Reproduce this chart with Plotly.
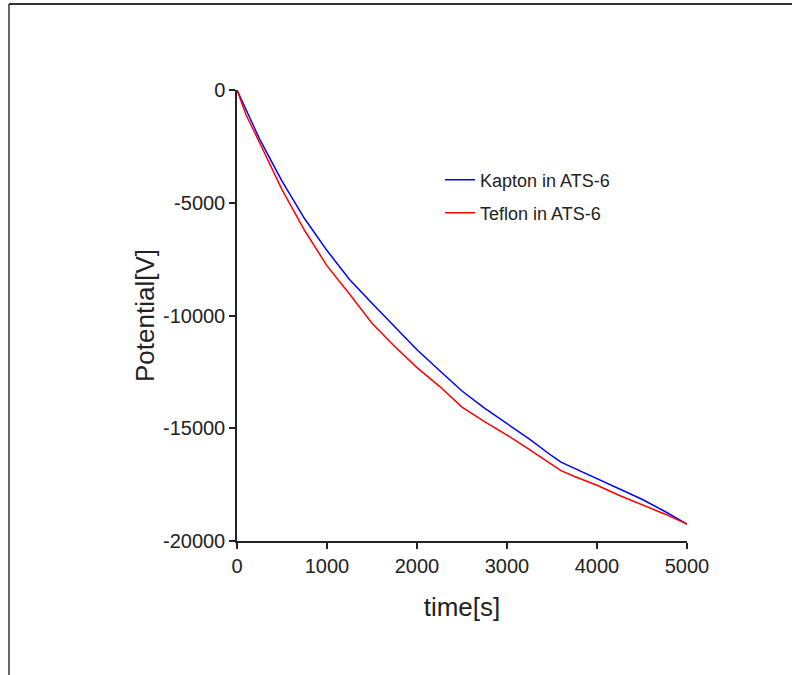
import plotly.graph_objects as go

time_s = [0, 100, 250, 500, 750, 1000, 1250, 1500, 1750, 2000, 2250, 2500,
          2750, 3000, 3250, 3500, 3600, 3750, 4000, 4250, 4500, 4750, 5000]
kapton = [0, -880, -2170, -4040, -5700, -7120, -8400, -9460, -10500, -11520,
          -12440, -13350, -14110, -14810, -15480, -16230, -16500, -16780,
          -17230, -17680, -18150, -18680, -19250]
teflon = [0, -1100, -2330, -4420, -6220, -7800, -9050, -10340, -11360, -12310,
          -13140, -14060, -14710, -15300, -15950, -16600, -16880, -17140,
          -17530, -17980, -18390, -18800, -19250]
names = ["Kapton in ATS-6", "Teflon in ATS-6"]
colors = ["#0000FF", "#FF0000"]
x_ticks = [0, 1000, 2000, 3000, 4000, 5000]
y_ticks = [0, -5000, -10000, -15000, -20000]
y_ticktext = ["0", "-5000", "-10000", "-15000", "-20000"]

FONT = "Liberation Sans, Arial, sans-serif"
TXT = "#222222"

fig = go.Figure()
fig.add_trace(go.Scatter(x=time_s, y=kapton, mode="lines", name=names[0],
                         line=dict(color=colors[0], width=1.5), legend="legend"))
fig.add_trace(go.Scatter(x=time_s, y=teflon, mode="lines", name=names[1],
                         line=dict(color=colors[1], width=1.5), legend="legend2"))

L, R, T, B = 237, 105, 90, 134
pw = 792 - L - R
ph = 675 - T - B

def px(xp):
    return (xp - L) / pw

def py(yp):
    return (675 - B - yp) / ph

axis_common = dict(showgrid=False, zeroline=False, showline=True,
                   linecolor="#222222", linewidth=1.5, ticks="outside",
                   ticklen=6, tickwidth=1.5, tickcolor="#222222",
                   tickfont=dict(family=FONT, size=20, color=TXT))

fig.update_layout(
    width=792, height=675,
    margin=dict(l=L, r=R, t=T, b=B, autoexpand=False),
    paper_bgcolor="white", plot_bgcolor="white",
    font=dict(family=FONT, color=TXT),
    xaxis=dict(range=[0, 5000], tickvals=x_ticks,
               ticktext=[str(v) for v in x_ticks],
               title=dict(text="time[s]", font=dict(family=FONT, size=26, color=TXT), standoff=22),
               **axis_common),
    yaxis=dict(range=[-20000, 0], tickvals=y_ticks, ticktext=y_ticktext,
               title=dict(text="Potential[V]", font=dict(family=FONT, size=26, color=TXT), standoff=1),
               **axis_common),
    legend=dict(x=px(440), y=py(180), xanchor="left", yanchor="middle",
                bgcolor="rgba(0,0,0,0)", font=dict(family=FONT, size=18, color=TXT)),
    legend2=dict(x=px(440), y=py(213), xanchor="left", yanchor="middle",
                 bgcolor="rgba(0,0,0,0)", font=dict(family=FONT, size=18, color=TXT)),
    showlegend=True,
    shapes=[
        dict(type="line", xref="paper", yref="paper",
             x0=px(9), x1=px(800), y0=py(4), y1=py(4),
             line=dict(color="#333333", width=2), layer="below"),
        dict(type="line", xref="paper", yref="paper",
             x0=px(9), x1=px(9), y0=py(4), y1=py(680),
             line=dict(color="#333333", width=1.5), layer="below"),
    ],
)

fig.write_html("out.html")
